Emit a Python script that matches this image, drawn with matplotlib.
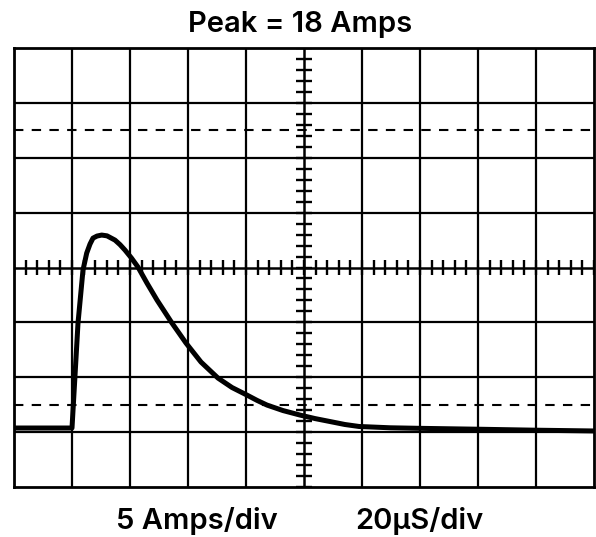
import numpy as np
import matplotlib
matplotlib.use("Agg")
import matplotlib.pyplot as plt

# ---- data ----
title_text = "Peak = 18 Amps"
x_label_left = "5 Amps/div"
x_label_right = "20\u00b5S/div"

time_us = [0, 20.0, 22.07, 23.79, 25.07, 26.21, 27.24, 28.62, 30.24, 32.07,
           34.83, 36.55, 38.28, 40.52, 42.76, 45.86, 49.31, 51.90, 54.48,
           56.90, 59.31, 64.48, 70.34, 75.17, 80.34, 83.79, 87.24, 92.76,
           98.62, 103.8, 108.97, 114.1, 118.97, 129.7, 140, 160, 180, 200]
current_a = [0, 0.0, 9.56, 14.39, 15.94, 16.76, 17.30, 17.49, 17.58, 17.51,
             17.12, 16.71, 16.21, 15.48, 14.66, 13.20, 11.66, 10.61, 9.56,
             8.65, 7.74, 6.01, 4.55, 3.69, 3.00, 2.52, 2.09, 1.59,
             1.18, 0.86, 0.59, 0.32, 0.14, 0.02, -0.03, -0.11, -0.20, -0.27]

AMPS_PER_DIV = 5.0
US_PER_DIV = 20.0
BASELINE_DIV = 1.075
N_XDIV = 10
N_YDIV = 8

fig = plt.figure(figsize=(5.96, 5.37), dpi=100)
ax = fig.add_axes([14/596, (537-487)/537, (594-14)/596, (487-48)/537])
ax.set_xlim(0, N_XDIV)
ax.set_ylim(0, N_YDIV)
ax.set_xticks([]); ax.set_yticks([])
for s in ax.spines.values():
    s.set_linewidth(2.0)
    s.set_color("black")

# grid
for i in range(1, N_XDIV):
    ax.axvline(i, color="black", lw=1.8 if i == N_XDIV // 2 else 1.6, zorder=1)
for j in range(1, N_YDIV):
    ax.axhline(j, color="black", lw=1.8 if j == N_YDIV // 2 else 1.6, zorder=1)
# dashed reference lines
for yd in (1.5, N_YDIV - 1.5):
    ax.axhline(yd, color="black", lw=1.5, dashes=(4.5, 4), zorder=1)

# minor ticks on centre cross
cx, cy = N_XDIV / 2, N_YDIV / 2
xt = np.arange(0, N_XDIV + 1e-9, 0.2)
yt = np.arange(0, N_YDIV + 1e-9, 0.2)
ax.vlines(xt, cy - 0.145, cy + 0.145, color="black", lw=1.7, zorder=1)
ax.hlines(yt, cx - 0.138, cx + 0.138, color="black", lw=1.7, zorder=1)

# trace
xd = np.array(time_us) / US_PER_DIV
yd = np.array(current_a) / AMPS_PER_DIV + BASELINE_DIV
ax.plot(xd, yd, color="black", lw=3.6, solid_joinstyle="round",
        solid_capstyle="butt", zorder=3, clip_on=True)

font = dict(family=["Inter", "DejaVu Sans"], weight="semibold",
            fontsize=21, color="black")
fig.text(300/596, (537-32)/537, title_text, ha="center", va="baseline", **font)
fig.text(197/596, (537-529)/537, x_label_left, ha="center", va="baseline", **font)
fig.text(419/596, (537-529)/537, x_label_right, ha="center", va="baseline", **font)

fig.savefig("out.png", dpi=100)
